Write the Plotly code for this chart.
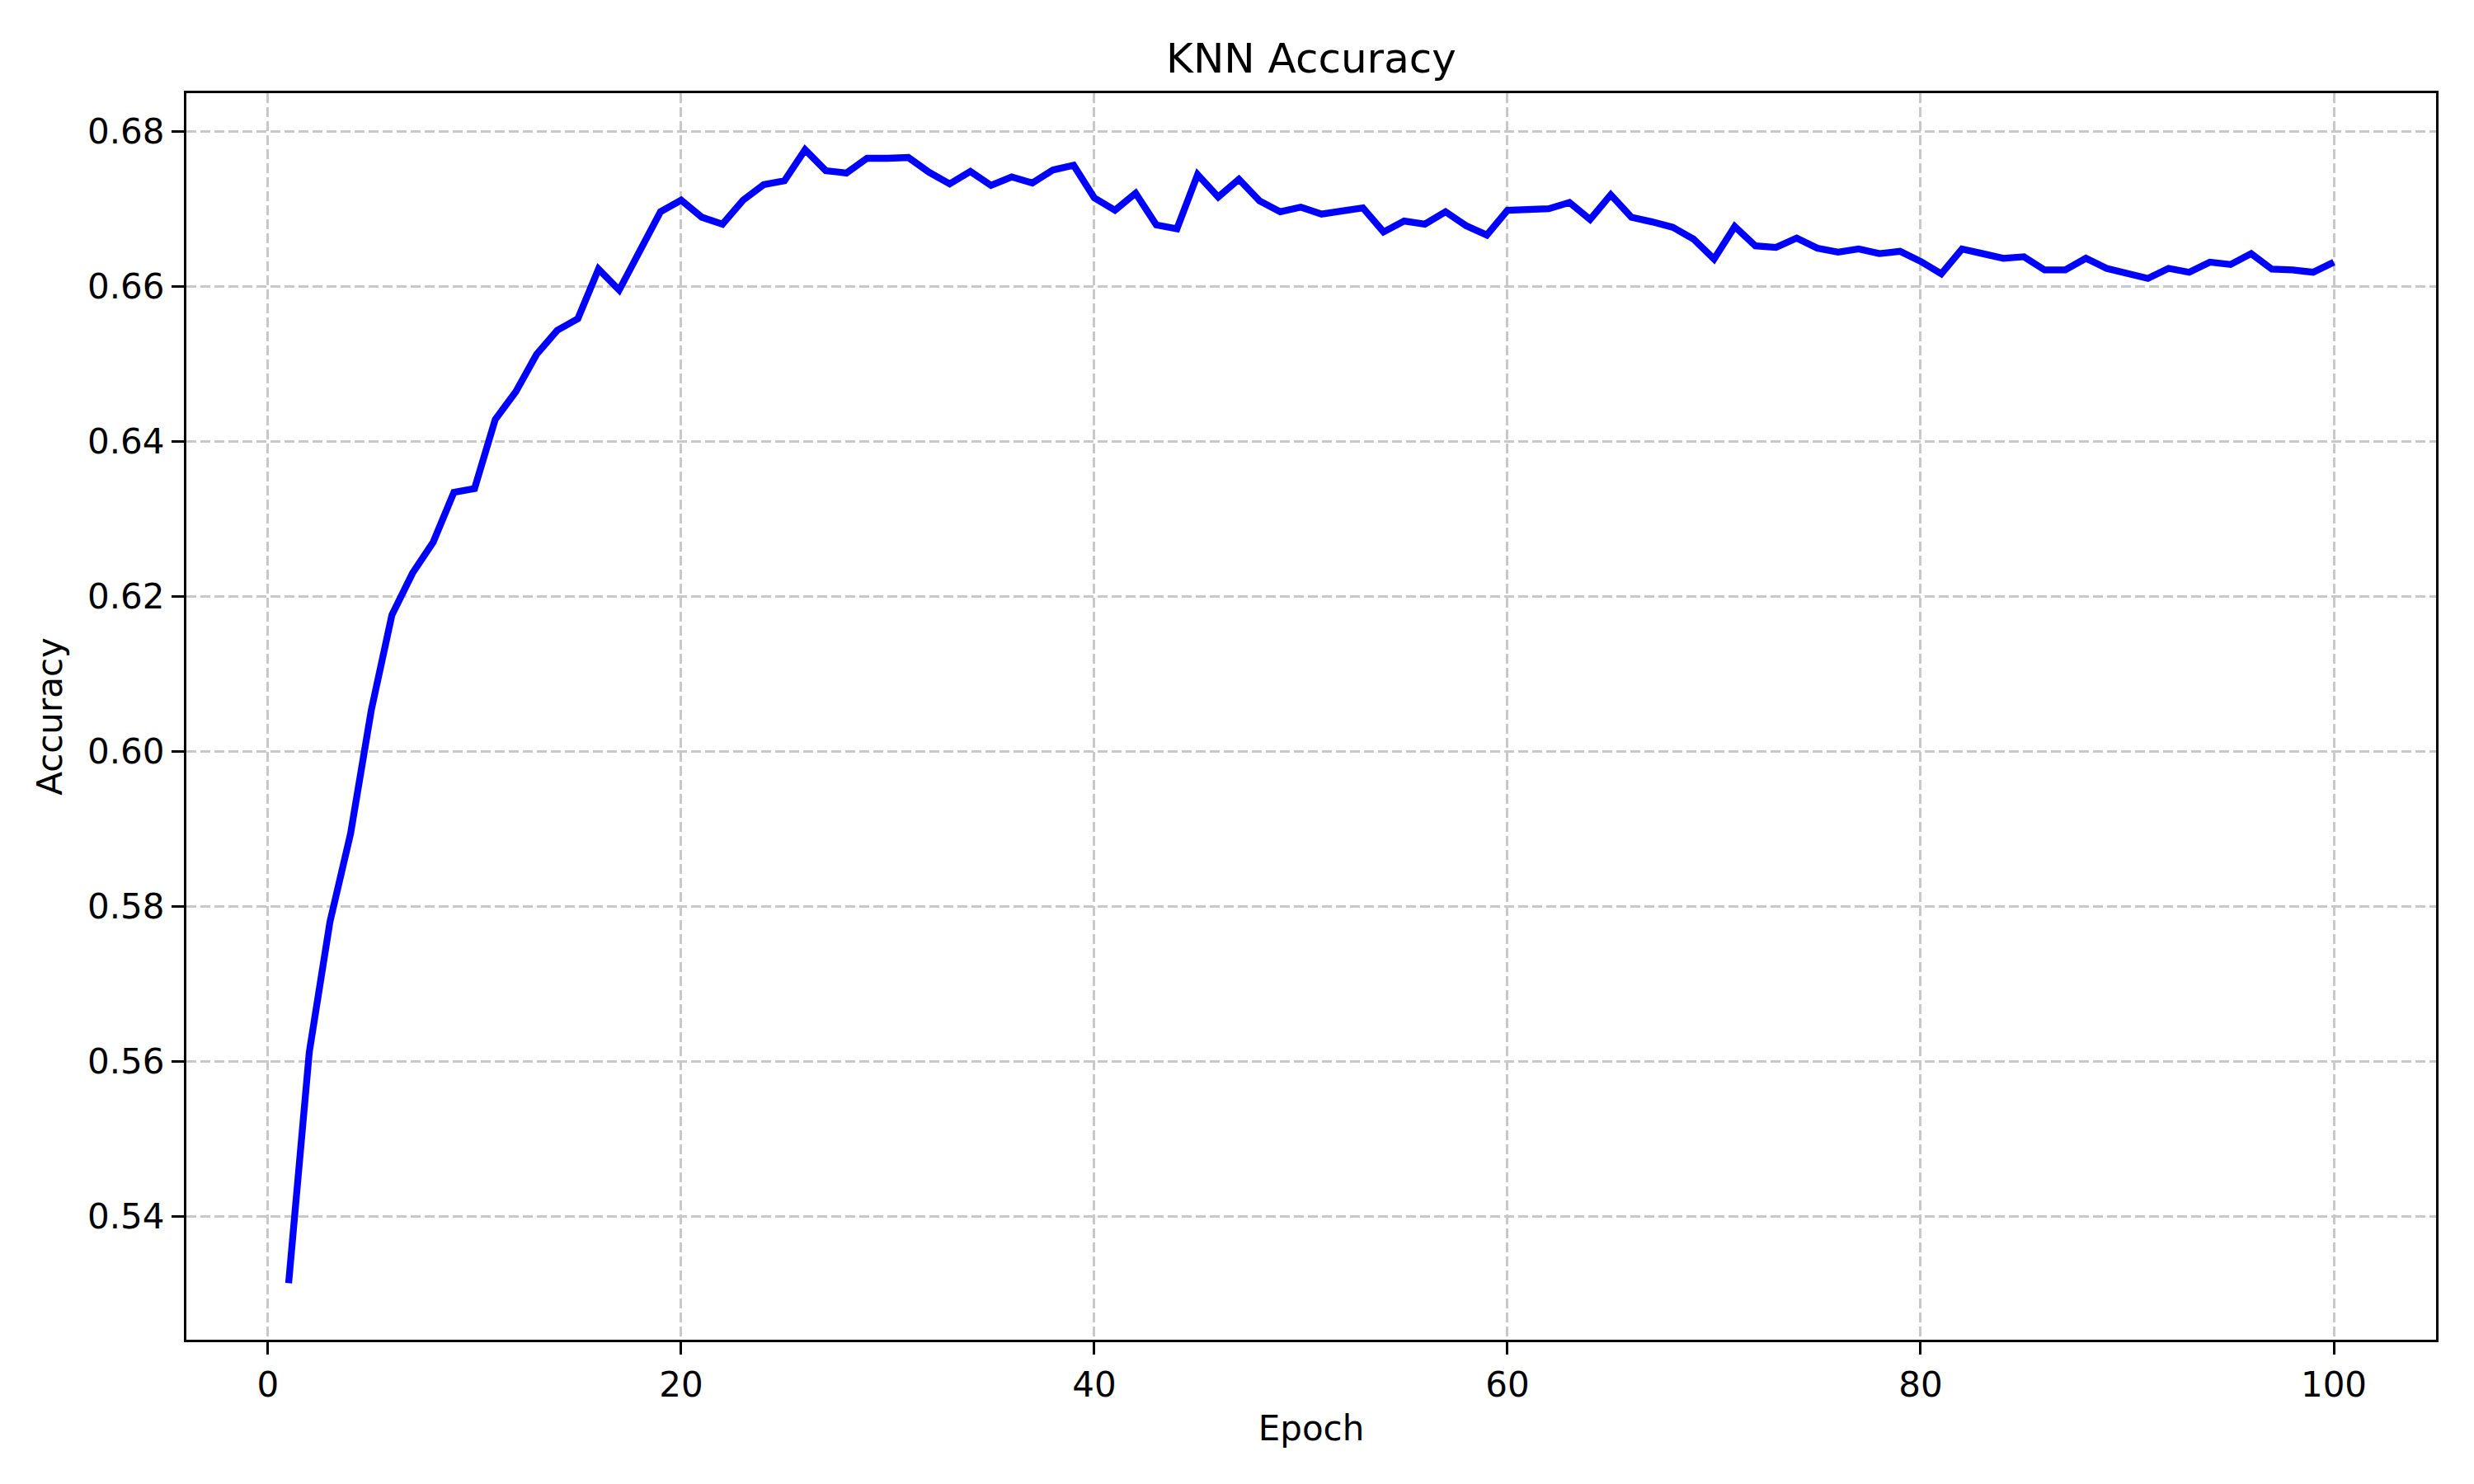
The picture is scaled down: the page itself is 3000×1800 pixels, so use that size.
import plotly.graph_objects as go

# KNN accuracy per epoch
epochs = list(range(1, 101))
accuracy = [
    0.5314, 0.5612, 0.5780, 0.5894, 0.6053, 0.6176, 0.6230, 0.6270, 0.6334, 0.6339,
    0.6428, 0.6464, 0.6512, 0.6543, 0.6558, 0.6622, 0.6595, 0.6645, 0.6696, 0.6711,
    0.6689, 0.6680, 0.6711, 0.6731, 0.6736, 0.6776, 0.6749, 0.6746, 0.6765, 0.6765,
    0.6766, 0.6747, 0.6732, 0.6748, 0.6730, 0.6741, 0.6733, 0.6750, 0.6756, 0.6714,
    0.6698, 0.6720, 0.6679, 0.6674, 0.6744, 0.6715, 0.6738, 0.6710, 0.6696, 0.6702,
    0.6693, 0.6697, 0.6701, 0.6670, 0.6684, 0.6680, 0.6696, 0.6678, 0.6666, 0.6698,
    0.6699, 0.6700, 0.6708, 0.6686, 0.6718, 0.6689, 0.6683, 0.6676, 0.6661, 0.6635,
    0.6677, 0.6652, 0.6650, 0.6662, 0.6649, 0.6644, 0.6648, 0.6642, 0.6645, 0.6632,
    0.6616, 0.6648, 0.6642, 0.6636, 0.6638, 0.6621, 0.6621, 0.6636, 0.6623, 0.6616,
    0.6610, 0.6623, 0.6618, 0.6631, 0.6628, 0.6642, 0.6622, 0.6621, 0.6618, 0.6631,
]

FONT = "DejaVu Sans"

fig = go.Figure()

fig.add_trace(go.Scatter(
    x=epochs,
    y=accuracy,
    mode='lines',
    name='Accuracy',
    line=dict(color='#0000ff', width=8.3),
))

# matplotlib-like axes: black frame, outside ticks, dashed light grid
axis_common = dict(
    showline=True,
    linecolor='black',
    linewidth=3.3,
    mirror=True,
    ticks='outside',
    ticklen=15,
    tickwidth=3.3,
    tickcolor='black',
    showgrid=True,
    gridcolor='#c8c8c8',
    gridwidth=3.3,
    griddash='12px,5px',
    zeroline=False,
    tickfont=dict(family=FONT, size=42, color='black'),
)

fig.update_xaxes(
    **axis_common,
    range=[-3.95, 104.95],
    tick0=0,
    dtick=20,
    title=dict(text='Epoch', font=dict(family=FONT, size=42, color='black'), standoff=16),
)
fig.update_yaxes(
    **axis_common,
    range=[0.5241, 0.6849],
    tick0=0.54,
    dtick=0.02,
    tickformat='.2f',
    title=dict(text='Accuracy', font=dict(family=FONT, size=42, color='black'), standoff=18),
)

# page body adds ~8px offset, so margins are trimmed on the left/top
fig.update_layout(
    width=3000,
    height=1800,
    title=dict(
        text='KNN Accuracy',
        font=dict(family=FONT, size=50, color='black'),
        x=0.5,
        xref='paper',
        xanchor='center',
        y=1 - 62 / 1800,
        yref='container',
        yanchor='middle',
    ),
    margin=dict(l=218, r=54, t=105, b=183),
    plot_bgcolor='white',
    paper_bgcolor='white',
    showlegend=False,
)

fig.write_html("out.html")
